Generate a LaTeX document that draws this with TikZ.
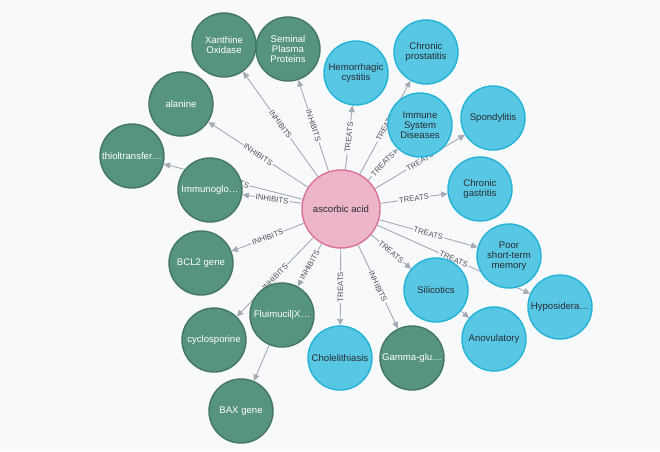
\documentclass[tikz,border=0pt]{standalone}
\usepackage{fontspec}
\setmainfont{Liberation Sans}
\usetikzlibrary{arrows.meta}
\definecolor{bg}{HTML}{F8F9FB}
\definecolor{gfill}{HTML}{569480}
\definecolor{gline}{HTML}{447666}
\definecolor{bfill}{HTML}{57C7E3}
\definecolor{bline}{HTML}{23B3D7}
\definecolor{pfill}{HTML}{ECB5C9}
\definecolor{pline}{HTML}{DA7298}
\definecolor{edgec}{HTML}{A5ABB6}
\definecolor{tdark}{HTML}{2A2C34}
\definecolor{ltext}{HTML}{4F535A}
\pgfdeclarelayer{bgl}
\pgfdeclarelayer{edges}
\pgfsetlayers{bgl,edges,main}
\begin{document}
\begin{tikzpicture}[x=1pt,y=-1pt,
  base/.style={circle,minimum size=64pt,inner sep=0pt,line width=1.4pt,align=center,
    font=\fontsize{9.6}{10}\selectfont},
  gnode/.style={base,fill=gfill,draw=gline,text=white},
  bnode/.style={base,fill=bfill,draw=bline,text=tdark},
  pnode/.style={base,minimum size=78pt,fill=pfill,draw=pline,text=tdark},
  rel/.style={draw=edgec,line width=0.9pt,-{Triangle[length=6.5pt,width=6pt]}},
  lbl/.style={sloped,midway,fill=bg,inner sep=1pt,text=ltext,
    font=\fontsize{7.8}{7.8}\selectfont}
]
\begin{pgfonlayer}{bgl}
\fill[bg] (0,0) rectangle (660,451);
\end{pgfonlayer}
\useasboundingbox (0,0) rectangle (660,451);

\node[pnode] (aa) at (341,209) {ascorbic acid};

\node[gnode] (xo) at (224,45) {Xanthine\\Oxidase};
\node[gnode] (spp) at (288,49) {Seminal\\Plasma\\Proteins};
\node[gnode] (ala) at (181,104) {alanine};
\node[gnode] (thi) at (132,156) {thioltransfer…};
\node[gnode] (imm) at (210,190) {Immunoglo…};
\node[gnode] (bcl) at (201,263) {BCL2 gene};
\node[gnode] (flu) at (282,315) {Fluimucil|X…};
\node[gnode] (cyc) at (214,340) {cyclosporine};
\node[gnode] (bax) at (241,411) {BAX gene};
\node[gnode] (gam) at (412,358) {Gamma-glu…};

\node[bnode] (hem) at (356,73) {Hemorrhagic\\cystitis};
\node[bnode] (cpr) at (426,52) {Chronic\\prostatitis};
\node[bnode] (isd) at (420,125) {Immune\\System\\Diseases};
\node[bnode] (spo) at (493,118) {Spondylitis};
\node[bnode] (cga) at (480,189) {Chronic\\gastritis};
\node[bnode] (poo) at (509,256) {Poor\\short-term\\memory};
\node[bnode] (sil) at (436,290) {Silicotics};
\node[bnode] (hyp) at (560,307) {Hyposidera…};
\node[bnode] (ano) at (494,339) {Anovulatory};
\node[bnode] (cho) at (340,358) {Cholelithiasis};

\begin{pgfonlayer}{edges}
\draw[rel] (aa) -- node[lbl] {INHIBITS} (xo);
\draw[rel] (aa) -- node[lbl] {INHIBITS} (spp);
\draw[rel] (aa) -- node[lbl] {INHIBITS} (ala);
\draw[rel] (aa) -- node[lbl] {INHIBITS} (thi);
\draw[rel] (aa) -- node[lbl] {INHIBITS} (imm);
\draw[rel] (aa) -- node[lbl] {INHIBITS} (bcl);
\draw[rel] (aa) -- node[lbl] {INHIBITS} (cyc);
\draw[rel] (aa) -- node[lbl] {INHIBITS} (flu);
\draw[rel] (aa) -- node[lbl] {INHIBITS} (gam);
\draw[rel] (aa) -- node[lbl] {TREATS} (hem);
\draw[rel] (aa) -- node[lbl] {TREATS} (cpr);
\draw[rel] (aa) -- node[lbl] {TREATS} (isd);
\draw[rel] (aa) -- node[lbl] {TREATS} (spo);
\draw[rel] (aa) -- node[lbl] {TREATS} (cga);
\draw[rel] (aa) -- node[lbl] {TREATS} (poo);
\draw[rel] (aa) -- node[lbl] {TREATS} (hyp);
\draw[rel] (aa) -- node[lbl] {TREATS} (sil);
\draw[rel] (aa) -- node[lbl] {TREATS} (cho);
\draw[rel] (flu) -- (bax);
\draw[rel] (sil) -- (ano);
\end{pgfonlayer}
\end{tikzpicture}
\end{document}
